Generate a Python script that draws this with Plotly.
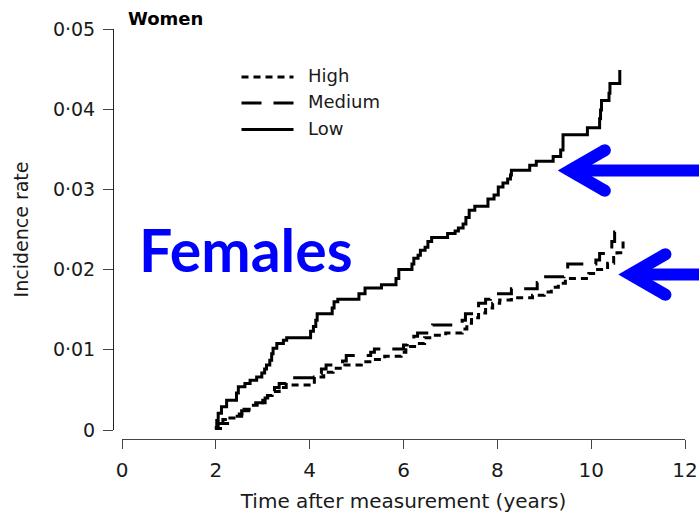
import math
import plotly.graph_objects as go

# ---- Cumulative incidence in women, step curves by group -------------------
# (time in years, cumulative incidence after each event)
low_time = [1.98, 2.02, 2.05, 2.12, 2.23, 2.44, 2.48, 2.62, 2.73, 2.87, 2.98, 3.04,
            3.08, 3.15, 3.19, 3.22, 3.30, 3.44, 3.51, 4.02, 4.08, 4.13, 4.16, 4.48,
            4.52, 4.60, 5.05, 5.18, 5.53, 5.84, 5.90, 6.18, 6.22, 6.31, 6.36, 6.46,
            6.52, 6.60, 6.94, 7.10, 7.17, 7.27, 7.33, 7.40, 7.52, 7.80, 7.93, 8.02,
            8.12, 8.22, 8.28, 8.30, 8.69, 8.83, 9.19, 9.35, 9.40, 9.92, 10.18, 10.20,
            10.22, 10.38, 10.40, 10.61]
low_rate = [0.0003, 0.0012, 0.0021, 0.0029, 0.0037, 0.0046, 0.0054, 0.0058, 0.0062,
            0.0066, 0.0071, 0.0076, 0.0081, 0.0087, 0.0095, 0.0102, 0.0108, 0.0112,
            0.0115, 0.0123, 0.0129, 0.0137, 0.0145, 0.0152, 0.0160, 0.0163, 0.0170,
            0.0177, 0.0181, 0.0189, 0.0200, 0.0207, 0.0214, 0.0218, 0.0224, 0.0228,
            0.0235, 0.0240, 0.0245, 0.0248, 0.0252, 0.0257, 0.0265, 0.0274, 0.0279,
            0.0288, 0.0293, 0.0303, 0.0308, 0.0313, 0.0318, 0.0324, 0.0330, 0.0335,
            0.0341, 0.0349, 0.0368, 0.0377, 0.0388, 0.0399, 0.0411, 0.0420, 0.0432,
            0.0449]

medium_time = [1.98, 2.05, 2.15, 2.30, 2.55, 2.70, 2.85, 3.05, 3.15, 3.25, 3.35, 3.50,
               4.10, 4.25, 4.35, 4.70, 4.78, 5.30, 5.38, 6.00, 6.08, 6.22, 6.30, 6.55,
               6.62, 7.25, 7.32, 7.45, 7.60, 7.75, 7.85, 8.30, 8.85, 8.92, 9.42, 9.50,
               10.10, 10.18, 10.30, 10.44, 10.50, 10.68]
medium_rate = [0.0003, 0.0008, 0.0013, 0.0017, 0.0024, 0.0030, 0.0034, 0.0040, 0.0047,
               0.0053, 0.0058, 0.0065, 0.0070, 0.0076, 0.0081, 0.0086, 0.0093, 0.0097,
               0.0101, 0.0106, 0.0113, 0.0117, 0.0121, 0.0126, 0.0131, 0.0137, 0.0145,
               0.0151, 0.0158, 0.0163, 0.0170, 0.0176, 0.0184, 0.0191, 0.0199, 0.0207,
               0.0212, 0.0220, 0.0226, 0.0235, 0.0247, 0.0247]

high_time = [1.98, 2.10, 2.30, 2.50, 2.60, 2.80, 3.00, 3.10, 3.20, 3.35, 3.50, 4.10,
             4.30, 4.50, 4.75, 5.10, 5.35, 5.60, 5.95, 6.05, 6.30, 6.45, 6.60, 6.90,
             7.25, 7.35, 7.45, 7.60, 7.75, 7.90, 8.05, 8.30, 8.75, 9.00, 9.15, 9.30,
             9.45, 9.95, 10.10, 10.35, 10.48, 10.55, 10.68]
high_rate = [0.0002, 0.0008, 0.0015, 0.0020, 0.0026, 0.0031, 0.0037, 0.0043, 0.0048,
             0.0053, 0.0056, 0.0066, 0.0072, 0.0077, 0.0081, 0.0085, 0.0088, 0.0092,
             0.0097, 0.0104, 0.0108, 0.0115, 0.0118, 0.0121, 0.0126, 0.0133, 0.0140,
             0.0146, 0.0152, 0.0158, 0.0162, 0.0165, 0.0168, 0.0172, 0.0178, 0.0183,
             0.0189, 0.0195, 0.0200, 0.0208, 0.0215, 0.0221, 0.0240]

series_names = ["High", "Medium", "Low"]
series_dash = ["7px,5px", "20px,12px", "solid"]

x_ticks = [0, 2, 4, 6, 8, 10, 12]
y_ticks = [0, 0.01, 0.02, 0.03, 0.04, 0.05]
y_tick_text = ["0", "0·01", "0·02", "0·03", "0·04", "0·05"]

panel_title = "Women"
x_title = "Time after measurement (years)"
y_title = "Incidence rate"
overlay_label = "Females"

# ---- page geometry (pixels) -------------------------------------------------
W, H = 699, 513
ML, MR, MT, MB = 113, 14, 29, 74
PW, PH = W - ML - MR, H - MT - MB
X0_PX = 122          # where x = 0 sits (x axis starts here)
Y0_PX = 430          # where y = 0 sits (y axis starts here)
BLUE = "#0000FF"
INK = "#1a1a1a"


def px(x, y):
    """Convert page pixels to paper coordinates."""
    return (x - ML) / PW, (MT + PH - y) / PH


fig = go.Figure()
series = [(high_time, high_rate), (medium_time, medium_rate), (low_time, low_rate)]
for name, dash, (t, r) in zip(series_names, series_dash, series):
    fig.add_trace(go.Scatter(
        x=t, y=r, name=name, mode="lines",
        line=dict(color="black", width=3, dash=dash, shape="hv"),
        showlegend=False,
    ))

shapes = []
annotations = []

# ---- legend drawn with long line samples ------------------------------------
legend_rows = [77, 103, 129.5]
text_rows = [75.5, 101.5, 128]
for name, dash, ly, ty in zip(series_names, series_dash, legend_rows, text_rows):
    x0, y0 = px(241.5, ly)
    x1, _ = px(293.5, ly)
    shapes.append(dict(type="line", xref="paper", yref="paper", x0=x0, x1=x1, y0=y0, y1=y0,
                       line=dict(color="black", width=3, dash=dash)))
    tx, tyy = px(305.5, ty)
    annotations.append(dict(text=name, xref="paper", yref="paper", x=tx, y=tyy,
                            xanchor="left", yanchor="middle", showarrow=False,
                            font=dict(family="DejaVu Sans", size=18, color=INK)))


# ---- blue pointer arrows ----------------------------------------------------
def add_arrow(tip_x, tip_y, w=12, half_angle=30, arm_len=40.6, shaft_end=715):
    a = math.radians(half_angle)
    s, c = math.sin(a), math.cos(a)
    cx, cy = tip_x + (w / 2) / s, tip_y
    blue_line = dict(color=BLUE, width=w)
    # shaft
    p0, p1 = px(cx, cy), px(shaft_end, cy)
    shapes.append(dict(type="line", xref="paper", yref="paper",
                       x0=p0[0], y0=p0[1], x1=p1[0], y1=p1[1], line=blue_line))
    # arms with round outer ends
    for sign in (-1, 1):
        ex, ey = cx + arm_len * c, cy + sign * arm_len * s
        q0, q1 = px(cx, cy), px(ex, ey)
        shapes.append(dict(type="line", xref="paper", yref="paper",
                           x0=q0[0], y0=q0[1], x1=q1[0], y1=q1[1], line=blue_line))
        c0, c1 = px(ex - w / 2, ey + w / 2), px(ex + w / 2, ey - w / 2)
        shapes.append(dict(type="circle", xref="paper", yref="paper",
                           x0=c0[0], y0=c0[1], x1=c1[0], y1=c1[1],
                           fillcolor=BLUE, line=dict(width=0)))
    # mitred point
    pts = [(tip_x, tip_y), (cx - s * w / 2, cy - c * w / 2), (cx + 3, cy),
           (cx - s * w / 2, cy + c * w / 2)]
    pp = [px(*p) for p in pts]
    path = "M " + " L ".join(f"{u:.5f},{v:.5f}" for u, v in pp) + " Z"
    shapes.append(dict(type="path", xref="paper", yref="paper", path=path,
                       fillcolor=BLUE, line=dict(width=0)))


add_arrow(557.7, 170.5)
add_arrow(618.3, 274.5)

# ---- text overlays ------------------------------------------------------------
wx, wy = px(125.5, 18.5)
annotations.append(dict(text=f"<b>{panel_title}</b>", xref="paper", yref="paper",
                        x=wx, y=wy, xanchor="left", yanchor="middle", showarrow=False,
                        font=dict(family="DejaVu Sans", size=18, color="black")))
fx, fy = px(137, 249)
annotations.append(dict(text=f"<b>{overlay_label}</b>", xref="paper", yref="paper",
                        x=fx, y=fy, xanchor="left", yanchor="middle", showarrow=False,
                        font=dict(family="Lato", size=59, color=BLUE)))

x_dom0 = (X0_PX - ML) / PW
y_dom0 = (MT + PH - Y0_PX) / PH

fig.update_layout(
    width=W, height=H, autosize=False,
    margin=dict(l=ML, r=MR, t=MT, b=MB, pad=0, autoexpand=False),
    paper_bgcolor="white", plot_bgcolor="white",
    shapes=shapes, annotations=annotations, showlegend=False,
    xaxis=dict(
        domain=[x_dom0, 1], anchor="free", position=0, automargin=False,
        range=[0, 12], tickvals=x_ticks, ticks="outside", ticklen=9, tickwidth=1,
        tickcolor="#444", showline=True, linecolor="#444", linewidth=1,
        showgrid=False, zeroline=False, ticklabelstandoff=4,
        tickfont=dict(family="DejaVu Sans", size=20, color=INK),
        title=dict(text=x_title, standoff=22,
                   font=dict(family="DejaVu Sans", size=20, color=INK)),
    ),
    yaxis=dict(
        domain=[y_dom0, 1], anchor="free", position=0, automargin=False,
        range=[0, 0.05], tickvals=y_ticks, ticktext=y_tick_text,
        ticks="outside", ticklen=10, tickwidth=1, tickcolor="#444",
        showline=True, linecolor="#222", linewidth=1,
        showgrid=False, zeroline=False, ticklabelstandoff=4,
        tickfont=dict(family="DejaVu Sans", size=19, color=INK),
        title=dict(text=y_title, standoff=18,
                   font=dict(family="DejaVu Sans", size=19, color=INK)),
    ),
)

fig.write_html("out.html", config={"responsive": False})
